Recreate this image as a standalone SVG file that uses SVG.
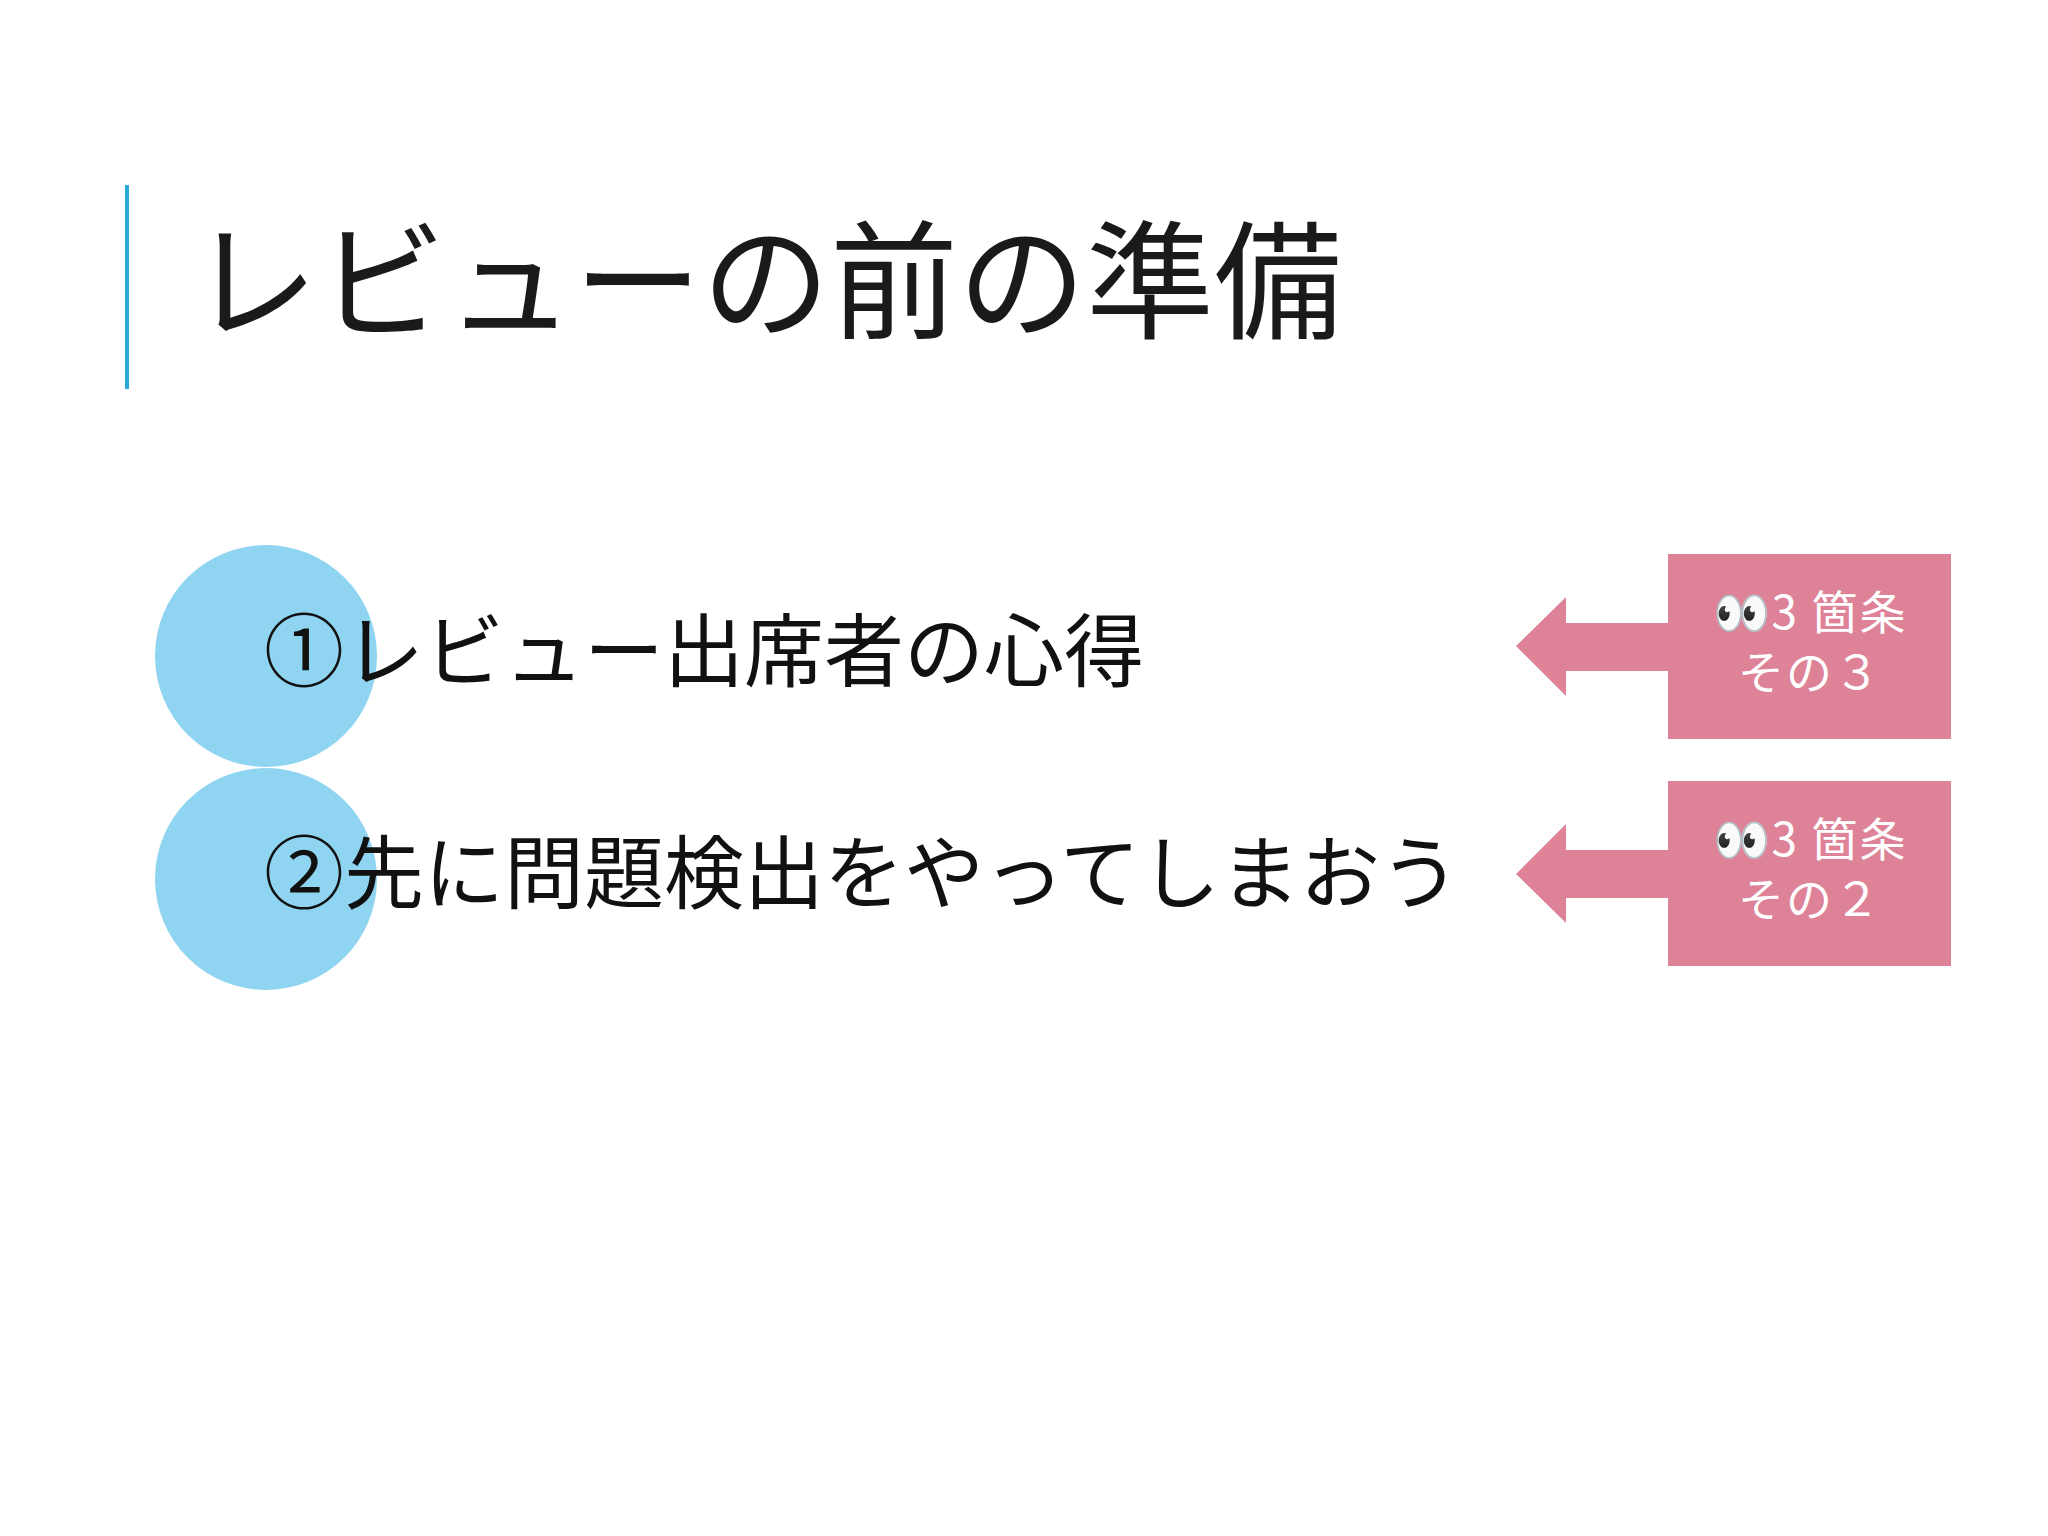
<svg xmlns="http://www.w3.org/2000/svg" width="2048" height="1536" viewBox="0 0 2048 1536">
<style>
.jp{font-family:"Noto Sans CJK JP","Noto Sans",sans-serif;}
.item{font-size:80px;fill:#111;}
.tag{font-size:46px;fill:#fff;text-anchor:middle;letter-spacing:2px;}
.circ{fill:#8fd4f0;}
.pink{fill:#de8298;}
</style>
<rect width="2048" height="1536" fill="#fff"/>
<g id="title">
<line x1="127" y1="185" x2="127" y2="389" stroke="#29a9d9" stroke-width="4"/>
<text class="jp" x="190" y="329" font-size="128" fill="#1a1a1a">レビューの前の準備</text>
</g>
<g id="item1">
<circle class="circ" cx="266" cy="656" r="111"/>
<text class="jp item" x="264" y="680">①レビュー出席者の心得</text>
</g>
<g id="item2">
<circle class="circ" cx="266" cy="879" r="111"/>
<text class="jp item" x="264" y="902">②先に問題検出をやってしまおう</text>
</g>
<g id="tag1">
<rect class="pink" x="1668" y="554" width="283" height="185"/>
<text class="jp tag" x="1810" y="629">👀3 箇条</text>
<text class="jp tag" x="1810" y="689">その３</text>
</g>
<g id="tag2">
<rect class="pink" x="1668" y="781" width="283" height="185"/>
<text class="jp tag" x="1810" y="856">👀3 箇条</text>
<text class="jp tag" x="1810" y="916">その２</text>
</g>
<g id="connectors">
<polygon class="pink" points="1516,646 1566,597 1566,623 1668,623 1668,671 1566,671 1566,696"/>
<polygon class="pink" points="1516,874 1566,824 1566,850 1668,850 1668,898 1566,898 1566,923"/>
</g>
</svg>
